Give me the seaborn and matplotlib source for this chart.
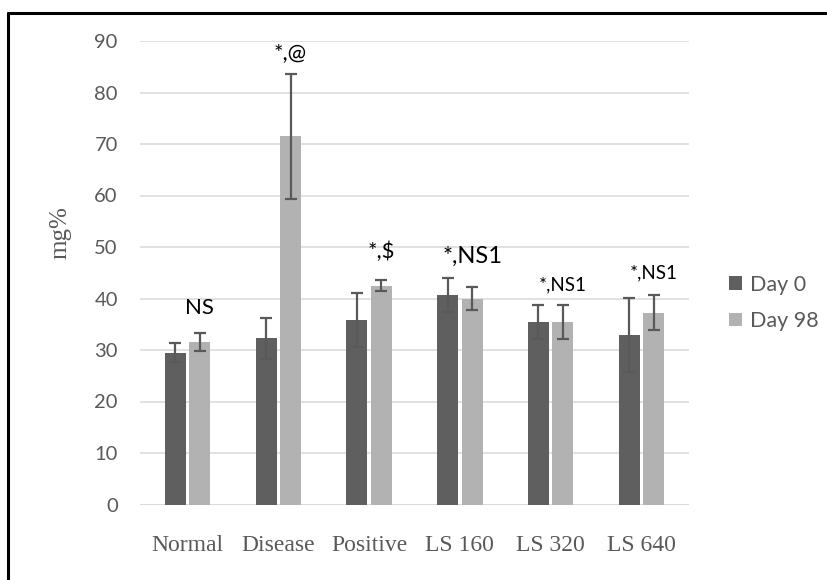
import matplotlib
matplotlib.use("Agg")
import matplotlib.pyplot as plt
import seaborn as sns
import pandas as pd
from matplotlib.lines import Line2D
from matplotlib.patches import Patch

groups = ['Normal', 'Disease', 'Positive', 'LS 160', 'LS 320', 'LS 640']
day0 = [29.5, 32.3, 35.8, 40.6, 35.4, 32.9]
day0_sd = [1.8, 4.0, 5.2, 3.3, 3.3, 7.2]
day98 = [31.5, 71.5, 42.5, 40.0, 35.4, 37.2]
day98_sd = [1.75, 12.1, 1.0, 2.2, 3.3, 3.4]
series = ['Day 0', 'Day 98']
annot_text = ['NS', '*,@', '*,$', '*,NS1', '*,NS1', '*,NS1']
annot_y = [38.1, 87.6, 49.0, 48.2, 42.6, 44.9]
annot_size = [16, 16, 16, 17, 13.5, 13.5]
yticks = [0, 10, 20, 30, 40, 50, 60, 70, 80, 90]

colors = ['#5f5f5f', '#b2b2b2']
txt_gray = '#595959'
sans = ['Lato', 'DejaVu Sans']
serif = ['Liberation Serif', 'DejaVu Serif']

sns.set_style('white')
plt.rcParams['font.family'] = sans

df = pd.DataFrame({
    'group': groups * 2,
    'value': day0 + day98,
    'day': [series[0]] * len(groups) + [series[1]] * len(groups),
})

W, H = 828, 580
fig = plt.figure(figsize=(W / 100, H / 100), dpi=100)
ax = fig.add_axes([140 / W, 1 - 504.5 / H, (689 - 140) / W, (504.5 - 41) / H])

sns.barplot(data=df, x='group', y='value', hue='day', order=groups,
            hue_order=series, palette=colors, saturation=1, width=0.54,
            gap=0.15, errorbar=None, linewidth=0, ax=ax, legend=False,
            zorder=2)

for cont, means, sds in zip(ax.containers, [day0, day98], [day0_sd, day98_sd]):
    xs = [p.get_x() + p.get_width() / 2 for p in cont.patches]
    ax.errorbar(xs, means, yerr=sds, fmt='none', ecolor=txt_gray,
                elinewidth=1.6, capsize=4.3, capthick=1.6, zorder=3)
    if cont is ax.containers[1]:
        for x, t, y, s in zip(xs, annot_text, annot_y, annot_size):
            ax.text(x, y, t, ha='center', va='center', fontsize=s,
                    color='black', family=sans, zorder=4)

ax.set_ylim(0, 90)
ax.set_yticks(yticks)
ax.set_yticklabels([str(v) for v in yticks], fontsize=14.5, color=txt_gray,
                   family=sans)
ax.set_xticks(range(len(groups)))
ax.set_xticklabels(groups, fontsize=17, color=txt_gray, family=serif)
ax.tick_params(axis='y', length=0, pad=16)
ax.tick_params(axis='x', length=0, pad=22)
ax.set_xlabel('')
ax.set_ylabel('')
ax.grid(axis='y', color='#d9d9d9', linewidth=1.1, zorder=0)
ax.set_axisbelow(True)
for s in ['top', 'right', 'left', 'bottom']:
    ax.spines[s].set_visible(False)
ax.axhline(0, color='#d9d9d9', linewidth=1.3, zorder=1)

fig.text(60 / W, 1 - 233 / H, 'mg%', rotation=90, ha='center', va='center',
         fontsize=18, color=txt_gray, family=serif)

handles = [Patch(facecolor=c, edgecolor='none') for c in colors]
leg = fig.legend(handles, series, loc='center left',
                 bbox_to_anchor=(729 / W, 1 - 303 / H), frameon=False,
                 fontsize=15.5, handlelength=0.62, handleheight=0.62,
                 handletextpad=0.35, labelspacing=0.75, borderaxespad=0,
                 borderpad=0)
for t in leg.get_texts():
    t.set_color(txt_gray)

fig.add_artist(Line2D([8 / W, 1], [1 - 13 / H, 1 - 13 / H], color='black',
                      linewidth=2.2, transform=fig.transFigure))
fig.add_artist(Line2D([8 / W, 8 / W], [0, 1 - 13 / H], color='black',
                      linewidth=2.2, transform=fig.transFigure))

fig.savefig('out.png', dpi=100, facecolor='white')
